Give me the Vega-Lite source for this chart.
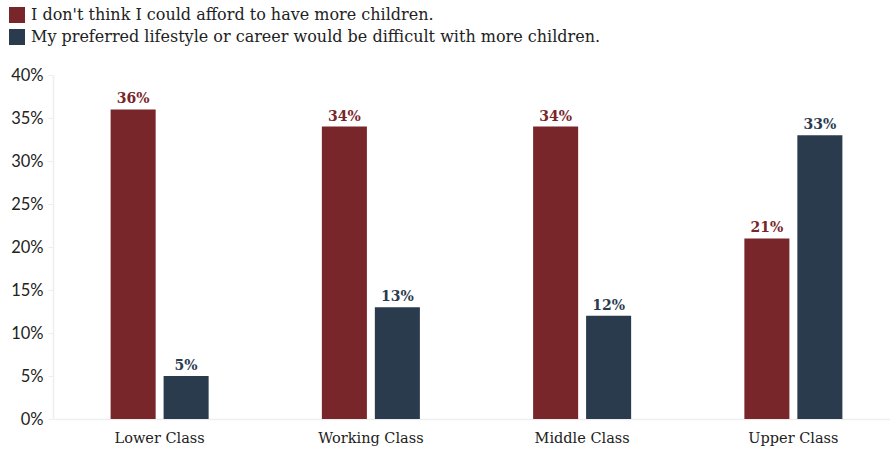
{
  "$schema": "https://vega.github.io/schema/vega-lite/v6.json",
  "autosize": {"type": "none"},
  "width": 837,
  "height": 344,
  "padding": {"left": 53, "top": 75, "right": 0, "bottom": 30},
  "background": "white",
  "config": {"view": {"stroke": null}},
  "data": {
    "values": [
      {"group": "Lower Class", "series": "I don't think I could afford to have more children.", "value": 36},
      {"group": "Lower Class", "series": "My preferred lifestyle or career would be difficult with more children.", "value": 5},
      {"group": "Working Class", "series": "I don't think I could afford to have more children.", "value": 34},
      {"group": "Working Class", "series": "My preferred lifestyle or career would be difficult with more children.", "value": 13},
      {"group": "Middle Class", "series": "I don't think I could afford to have more children.", "value": 34},
      {"group": "Middle Class", "series": "My preferred lifestyle or career would be difficult with more children.", "value": 12},
      {"group": "Upper Class", "series": "I don't think I could afford to have more children.", "value": 21},
      {"group": "Upper Class", "series": "My preferred lifestyle or career would be difficult with more children.", "value": 33}
    ]
  },
  "encoding": {
    "x": {
      "field": "group", "type": "nominal", "sort": null, "title": null,
      "scale": {"range": [1, 846], "paddingInner": 0.536, "paddingOuter": 0.268},
      "axis": {"labelAngle": 0, "labelFont": "DejaVu Serif", "labelFontSize": 14.5, "labelColor": "#222222", "labelPadding": 12, "ticks": false, "domainColor": "#eeeeee", "domainWidth": 1.5}
    },
    "xOffset": {"field": "series", "type": "nominal", "scale": {"paddingInner": 0.15, "paddingOuter": 0}},
    "y": {
      "field": "value", "type": "quantitative", "title": null,
      "scale": {"domain": [0, 40], "nice": false},
      "axis": {"values": [0, 5, 10, 15, 20, 25, 30, 35, 40], "labelExpr": "datum.value + '%'", "grid": false, "labelFont": "Lato", "labelFontSize": 16.5, "labelColor": "#222222", "tickSize": 5, "tickColor": "#eeeeee", "domainColor": "#eeeeee", "domainWidth": 1.5, "labelPadding": 5}
    },
    "color": {
      "field": "series", "type": "nominal", "title": null,
      "scale": {"range": ["#78262a", "#2b3b4e"]},
      "legend": {"orient": "none", "legendX": -44, "legendY": -68, "symbolType": "square", "symbolSize": 256, "symbolStrokeWidth": 0, "symbolOpacity": 1, "labelFont": "DejaVu Serif", "labelFontSize": 16, "labelColor": "#222222", "labelLimit": 0, "rowPadding": 6, "labelOffset": 6}
    }
  },
  "layer": [
    {"mark": {"type": "bar", "opacity": 1}},
    {
      "transform": [{"calculate": "datum.value + '%'", "as": "label"}],
      "mark": {"type": "text", "baseline": "bottom", "dy": -3, "font": "DejaVu Serif", "fontWeight": "bold", "fontSize": 14},
      "encoding": {
        "text": {"field": "label", "type": "nominal"},
        "color": {"field": "series", "type": "nominal", "scale": {"range": ["#7a1f22", "#243447"]}, "legend": null}
      }
    }
  ],
  "resolve": {"scale": {"color": "shared"}}
}
